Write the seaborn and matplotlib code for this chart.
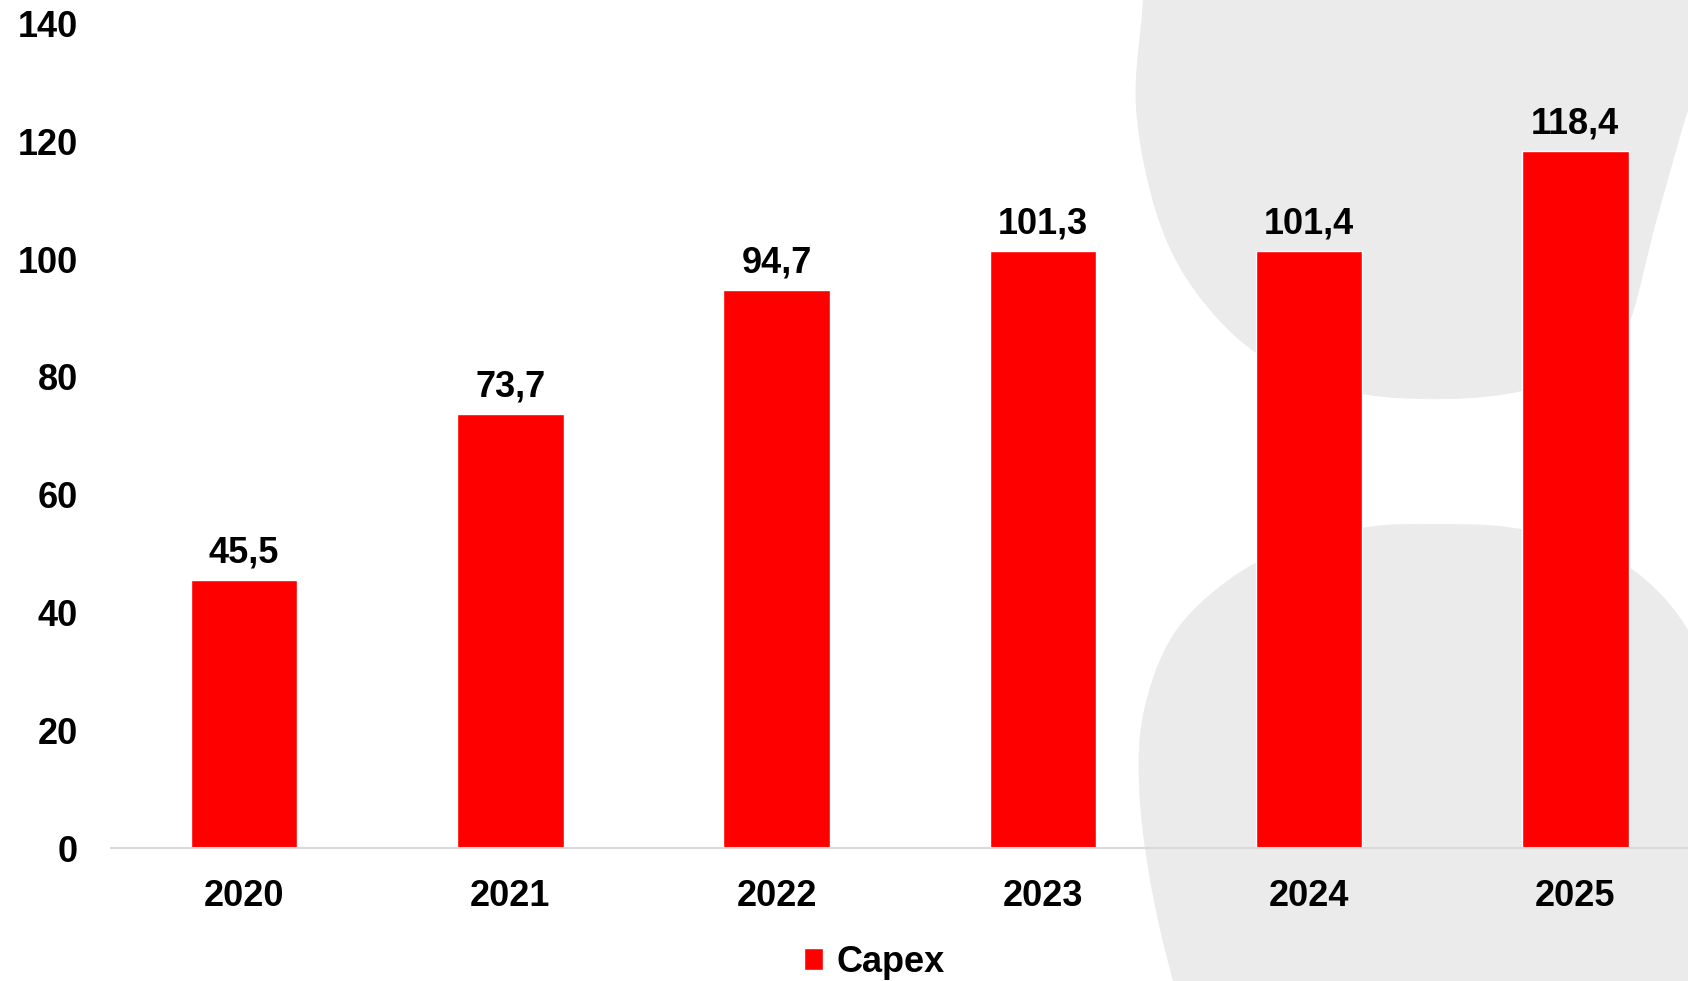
import numpy as np
import pandas as pd
import matplotlib
matplotlib.use("Agg")
import matplotlib.pyplot as plt
from matplotlib.path import Path
from matplotlib.patches import PathPatch
import seaborn as sns

years = ["2020", "2021", "2022", "2023", "2024", "2025"]
capex = [45.5, 73.7, 94.7, 101.3, 101.4, 118.4]
series_name = "Capex"
y_ticks = [0, 20, 40, 60, 80, 100, 120, 140]

sns.set_theme(style="white")
plt.rcParams["font.family"] = ["Liberation Sans", "DejaVu Sans"]
plt.rcParams["font.weight"] = "bold"
plt.rcParams["text.color"] = "black"

W, H = 1688, 981
fig = plt.figure(figsize=(W / 100, H / 100), dpi=100)
fig.patch.set_facecolor("white")

# decorative background blobs (figure pixel coords, y from top)
bg = fig.add_axes([0, 0, 1, 1], zorder=-1)
bg.set_xlim(0, W)
bg.set_ylim(H, 0)
bg.axis("off")


def smooth_closed(points):
    pts = np.asarray(points, dtype=float)
    n = len(pts)
    verts = [pts[0]]
    codes = [Path.MOVETO]
    for i in range(n):
        p0 = pts[(i - 1) % n]
        p1 = pts[i]
        p2 = pts[(i + 1) % n]
        p3 = pts[(i + 2) % n]
        c1 = p1 + (p2 - p0) / 6.0
        c2 = p2 - (p3 - p1) / 6.0
        verts += [c1, c2, p2]
        codes += [Path.CURVE4] * 3
    return Path(verts, codes)


top_blob = [(1150, -120), (1143, 0), (1136, 108), (1157, 215), (1195, 291),
            (1259, 355), (1345, 390), (1421, 399), (1507, 394), (1582, 371),
            (1625, 334), (1658, 215), (1700, 75), (1760, -60), (1800, -160),
            (1500, -200)]
bottom_blob = [(1210, 1100), (1173, 981), (1150, 880), (1139, 786), (1144, 710),
               (1173, 635), (1227, 581), (1292, 546), (1367, 527), (1432, 524),
               (1507, 527), (1582, 544), (1647, 581), (1700, 650), (1770, 800),
               (1800, 1000), (1600, 1150)]
for blob in (top_blob, bottom_blob):
    bg.add_patch(PathPatch(smooth_closed(blob), facecolor="#EBEBEB",
                           edgecolor="none"))

ax = fig.add_axes([111 / W, (H - 848) / H, 1 - 111 / W, (848 - 23.6) / H])
ax.set_facecolor("none")

df = pd.DataFrame({"year": years, "capex": capex})
sns.barplot(data=df, x="year", y="capex", color="#FF0000", width=0.4,
            saturation=1, ax=ax)

ax.set_ylim(0, 140)
ax.set_xlim(-0.5, (W - 243.8) / 266.3)
ax.set_yticks(y_ticks)
ax.set_yticklabels([str(t) for t in y_ticks])
ax.set_xlabel("")
ax.set_ylabel("")
ax.tick_params(axis="both", length=0, labelsize=26, colors="black")
ax.tick_params(axis="y", pad=24)
ax.tick_params(axis="x", pad=22)
for lbl in ax.get_xticklabels() + ax.get_yticklabels():
    lbl.set_fontweight("bold")

for side in ("top", "right", "left"):
    ax.spines[side].set_visible(False)
ax.spines["bottom"].set_color("#D9D9D9")
ax.spines["bottom"].set_linewidth(1.5)
ax.grid(False)

ax.bar_label(ax.containers[0],
             labels=[f"{v:.1f}".replace(".", ",") for v in capex],
             padding=7, fontsize=26, fontweight="bold", color="black")

leg = fig.legend([ax.containers[0]], [series_name], loc="center",
                 bbox_to_anchor=(874 / W, 0.019), frameon=False,
                 fontsize=26, handlelength=0.55, handleheight=0.55,
                 handletextpad=0.35, borderpad=0)
for t in leg.get_texts():
    t.set_fontweight("bold")
    t.set_color("black")

fig.savefig("out.png", dpi=100, facecolor="white")
